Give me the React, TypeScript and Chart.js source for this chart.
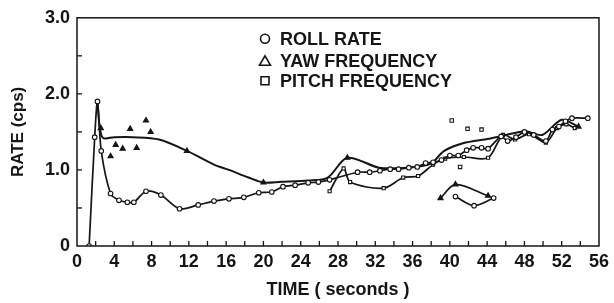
import React, { useEffect, useRef } from "react";
import { Chart, registerables } from "chart.js";

Chart.register(...registerables);

// ---------- data ----------
const xTickValues = [0, 4, 8, 12, 16, 20, 24, 28, 32, 36, 40, 44, 48, 52, 56];
const yTickLabels = ["0", "1.0", "2.0", "3.0"];

const rollTime = [1.3, 1.9, 2.2, 2.6, 3.6, 4.5, 5.4, 6.1, 7.4, 9.0, 11.0, 13.0, 14.7, 16.3, 17.9, 19.5, 20.9, 22.1, 23.4, 24.8, 25.9, 27.1, 30.1, 31.4, 32.5, 33.6, 34.5, 35.6, 36.5, 37.4, 38.2, 39.1, 40.0, 40.9, 41.8, 42.5, 43.4, 44.1, 45.5, 46.2, 47.1, 48.0, 49.0, 50.3, 51.0, 51.7, 52.4, 53.1, 54.8];
const rollRate = [0, 1.43, 1.9, 1.25, 0.69, 0.6, 0.575, 0.575, 0.72, 0.67, 0.49, 0.54, 0.59, 0.62, 0.64, 0.7, 0.71, 0.78, 0.8, 0.83, 0.84, 0.87, 0.97, 0.97, 0.99, 1.01, 1.01, 1.03, 1.04, 1.09, 1.1, 1.13, 1.19, 1.19, 1.26, 1.29, 1.29, 1.28, 1.44, 1.38, 1.43, 1.5, 1.46, 1.38, 1.53, 1.57, 1.64, 1.68, 1.68];

const rollLowTime = [40.6, 42.6, 44.7];
const rollLowRate = [0.65, 0.53, 0.63];

const yawTime = [2.2, 2.45, 2.8, 4.0, 6.0, 8.8, 11.8, 14.7, 16.3, 18.4, 20.0, 21.9, 24.8, 26.9, 29.0, 32.4, 35.4, 37.9, 39.4, 41.4, 44.2, 45.7, 48.1, 49.9, 52.0, 53.8];
const yawFreq = [1.88, 1.55, 1.42, 1.43, 1.43, 1.4, 1.25, 1.07, 1.0, 0.9, 0.835, 0.845, 0.86, 0.9, 1.16, 1.03, 1.03, 1.08, 1.25, 1.35, 1.41, 1.45, 1.51, 1.46, 1.66, 1.57];

const yawPointTime = [2.55, 3.6, 4.15, 4.9, 5.7, 6.4, 7.4, 7.9, 11.8, 20.0, 29.0, 53.8];
const yawPointFreq = [1.55, 1.18, 1.33, 1.28, 1.54, 1.29, 1.65, 1.5, 1.25, 0.835, 1.16, 1.57];

const yawLowTime = [39.0, 40.6, 44.1];
const yawLowFreq = [0.63, 0.81, 0.66];

const pitchTime = [27.1, 28.6, 29.3, 32.9, 35.0, 36.6, 38.2, 39.5, 41.5, 44.1, 45.7, 47.0, 48.5, 50.3, 51.5, 52.5, 53.4];
const pitchFreq = [0.72, 1.02, 0.84, 0.76, 0.9, 0.92, 1.07, 1.15, 1.17, 1.16, 1.46, 1.4, 1.47, 1.36, 1.55, 1.6, 1.55];

const pitchPointTime = [40.2, 41.9, 43.4, 41.1];
const pitchPointFreq = [1.65, 1.54, 1.53, 1.04];

const legendLabels = ["ROLL RATE", "YAW FREQUENCY", "PITCH FREQUENCY"];
const legendSymbols = ["circle", "triangle", "rect"];

const xs = (t: number[], v: number[]) => t.map((x, i) => ({ x, y: v[i] }));

const INK = "#151515";
const FONT = "'Liberation Sans', Arial, sans-serif";

const framePlugin = {
  id: "frame",
  afterDraw(chart: any) {
    const { ctx, chartArea: a, scales } = chart;
    const x = scales.x;
    const y = scales.y;
    ctx.save();
    ctx.strokeStyle = INK;
    ctx.lineWidth = 1.5;
    ctx.strokeRect(a.left, a.top, a.right - a.left, a.bottom - a.top);
    ctx.lineWidth = 1.3;
    for (let t = 2; t < 56; t += 2) {
      const px = x.getPixelForValue(t);
      ctx.beginPath();
      ctx.moveTo(px, a.bottom);
      ctx.lineTo(px, a.bottom - 5);
      ctx.stroke();
    }
    for (let v = 0.5; v < 3; v += 0.5) {
      const py = y.getPixelForValue(v);
      ctx.beginPath();
      ctx.moveTo(a.left, py);
      ctx.lineTo(a.left + 5, py);
      ctx.stroke();
    }
    // legend
    const sx = a.left + 188;
    const tx = a.left + 203;
    const rows = [a.top + 21, a.top + 43, a.top + 63];
    ctx.font = `bold 18px ${FONT}`;
    ctx.fillStyle = INK;
    ctx.textBaseline = "middle";
    ctx.textAlign = "left";
    ctx.lineWidth = 1.6;
    legendLabels.forEach((lab, i) => {
      const cy = rows[i];
      ctx.beginPath();
      if (legendSymbols[i] === "circle") {
        ctx.arc(sx, cy, 4.5, 0, Math.PI * 2);
      } else if (legendSymbols[i] === "triangle") {
        ctx.moveTo(sx, cy - 5);
        ctx.lineTo(sx + 5.5, cy + 4.5);
        ctx.lineTo(sx - 5.5, cy + 4.5);
        ctx.closePath();
      } else {
        ctx.rect(sx - 4, cy - 4, 8, 8);
      }
      ctx.stroke();
      ctx.fillText(lab, tx, cy + 1);
    });
    ctx.restore();
  },
};

export default function App() {
  const ref = useRef<HTMLCanvasElement | null>(null);
  useEffect(() => {
    document.body.style.margin = "0";
    const canvas = ref.current;
    if (!canvas) return;
    const lineBase = {
      borderColor: INK,
      backgroundColor: "#ffffff",
      pointBorderColor: INK,
      pointBackgroundColor: "#ffffff",
      borderWidth: 1.7,
      pointBorderWidth: 1.1,
      tension: 0.3,
    };
    const chart = new Chart(canvas, {
      type: "scatter",
      data: {
        datasets: [
          { ...lineBase, label: "ROLL RATE", data: xs(rollTime, rollRate), showLine: true, pointStyle: "circle", pointRadius: 2.3 },
          { ...lineBase, label: "roll-low", data: xs(rollLowTime, rollLowRate), showLine: true, pointStyle: "circle", pointRadius: 2.3 },
          { ...lineBase, label: "YAW FREQUENCY", data: xs(yawTime, yawFreq), showLine: true, pointRadius: 0, borderWidth: 2 },
          { ...lineBase, label: "yaw-points", data: xs(yawPointTime, yawPointFreq), showLine: false, pointStyle: "triangle", pointRadius: 3, pointBackgroundColor: INK },
          { ...lineBase, label: "yaw-low", data: xs(yawLowTime, yawLowFreq), showLine: true, pointStyle: "triangle", pointRadius: 3, pointBackgroundColor: INK },
          { ...lineBase, label: "PITCH FREQUENCY", data: xs(pitchTime, pitchFreq), showLine: true, pointStyle: "rect", pointRadius: 2.2 },
          { ...lineBase, label: "pitch-points", data: xs(pitchPointTime, pitchPointFreq), showLine: false, pointStyle: "rect", pointRadius: 2.4 },
        ],
      },
      options: {
        animation: false,
        responsive: false,
        layout: { padding: { top: 15, right: 10, left: 0, bottom: 0 } },
        plugins: { legend: { display: false }, tooltip: { enabled: false } },
        scales: {
          x: {
            type: "linear",
            min: 0,
            max: 56,
            afterFit: (s: any) => { s.height = 57; },
            afterBuildTicks: (s: any) => { s.ticks = xTickValues.map((v) => ({ value: v })); },
            grid: { display: false, drawTicks: false },
            border: { display: false },
            ticks: { color: INK, font: { family: FONT, size: 18, weight: "bold" }, padding: 5, maxRotation: 0, autoSkip: false, callback: (v: any) => String(v) },
            title: { display: true, text: "TIME ( seconds )", color: INK, font: { family: FONT, size: 18, weight: "bold" }, padding: { top: 0, bottom: 2 } },
          },
          y: {
            type: "linear",
            min: 0,
            max: 3,
            afterFit: (s: any) => { s.width = 77; },
            afterBuildTicks: (s: any) => { s.ticks = yTickLabels.map((_, i) => ({ value: i })); },
            grid: { display: false, drawTicks: false },
            border: { display: false },
            ticks: { color: INK, font: { family: FONT, size: 18, weight: "bold" }, padding: 7, callback: (v: any) => yTickLabels[Math.round(v)] },
            title: { display: true, text: "RATE (cps)", color: INK, font: { family: FONT, size: 17, weight: "bold" }, padding: { top: 8, bottom: 0 } },
          },
        },
      },
      plugins: [framePlugin],
    } as any);
    return () => chart.destroy();
  }, []);
  return (
    <div style={{ width: 614, height: 303, background: "#fff" }}>
      <canvas ref={ref} width={614} height={303} />
    </div>
  );
}
